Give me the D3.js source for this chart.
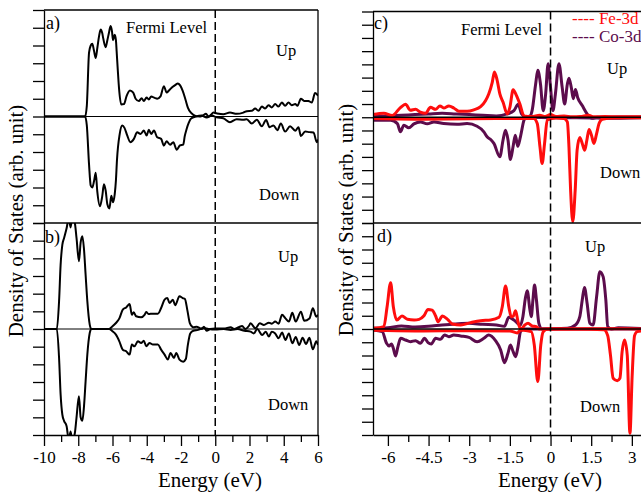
<!DOCTYPE html>
<html>
<head>
<meta charset="utf-8">
<script src="https://cdn.jsdelivr.net/npm/d3@7"></script>
<style>
  body { margin: 0; background: #fff; }
  svg { display: block; }
</style>
</head>
<body>
<svg id="chart" width="641" height="494"></svg>
<script>
// ---- Energy axis ticks (eV) ----
const leftMajorTicks = [-10, -8, -6, -4, -2, 0, 2, 4, 6];
const leftMinorTicks = [-9, -7, -5, -3, -1, 1, 3, 5];
const rightMajorTicks = [-6, -4.5, -3, -1.5, 0, 1.5, 3];
const rightMinorTicks = [-5.25, -3.75, -2.25, -0.75, 0.75, 2.25];
const leftDosTicks = d3.range(-6, 7);
const rightDosTicks = d3.range(-8, 9);

// ---- Series: [energy (eV), DOS (arb. unit)] ----
// a) total DOS, spin up / spin down
const aUp = [[-10,0],[-7.6,0],[-7.5,0.6],[-7.37,3.6],[-7.27,4.0],[-7.18,4.1],[-7.08,3.7],[-6.98,3.3],[-6.88,3.9],[-6.79,4.5],[-6.69,4.9],[-6.6,4.7],[-6.54,4.4],[-6.4,3.9],[-6.3,4.3],[-6.2,4.75],[-6.11,5.1],[-6.03,4.8],[-5.97,4.3],[-5.87,4.6],[-5.8,4.3],[-5.76,3.7],[-5.69,2.6],[-5.62,1.6],[-5.49,0.68],[-5.33,0.7],[-5.18,1.15],[-4.98,1.47],[-4.79,1.35],[-4.65,1.0],[-4.46,0.87],[-4.3,1.03],[-4.17,0.87],[-4.01,1.07],[-3.88,0.96],[-3.74,1.13],[-3.54,1.05],[-3.39,1.0],[-3.2,1.13],[-3.0,1.71],[-2.84,1.35],[-2.7,1.47],[-2.5,1.66],[-2.3,1.8],[-2.19,1.86],[-2.05,1.75],[-1.9,1.44],[-1.74,0.96],[-1.6,0.5],[-1.41,0.2],[-1.12,0.02],[-0.93,0],[-0.74,0.05],[-0.54,0.15],[-0.39,0],[-0.25,0.1],[-0.11,0.22],[0.08,0.18],[0.47,0.13],[0.86,0.22],[1.25,0.15],[1.64,0.22],[1.84,0.3],[2.13,0.32],[2.33,0.45],[2.52,0.32],[2.72,0.56],[2.91,0.45],[3.11,0.64],[3.3,0.51],[3.5,0.7],[3.69,0.56],[3.89,0.79],[4.08,0.6],[4.28,0.79],[4.47,0.64],[4.67,0.7],[4.8,0.6],[5.0,1.0],[5.19,0.88],[5.44,0.87],[5.64,0.79],[5.83,1.32],[6.0,1.17]];
const aDown = [[-10,0],[-7.6,0],[-7.5,-0.5],[-7.37,-2.7],[-7.27,-3.9],[-7.18,-4.0],[-7.08,-3.65],[-6.98,-3.17],[-6.89,-4.2],[-6.73,-5.05],[-6.6,-4.5],[-6.5,-3.82],[-6.4,-4.17],[-6.3,-4.95],[-6.18,-5.18],[-6.07,-4.47],[-5.97,-4.83],[-5.87,-4.37],[-5.8,-3.6],[-5.74,-2.47],[-5.58,-0.99],[-5.43,-0.51],[-5.3,-0.64],[-5.14,-1.07],[-4.95,-1.45],[-4.75,-1.26],[-4.56,-0.89],[-4.36,-0.98],[-4.17,-0.79],[-4.01,-1.07],[-3.88,-0.75],[-3.74,-0.98],[-3.58,-0.79],[-3.39,-1.17],[-3.16,-1.26],[-3.0,-1.64],[-2.84,-1.4],[-2.64,-1.59],[-2.45,-1.45],[-2.25,-1.87],[-2.06,-1.63],[-1.87,-1.58],[-1.78,-1.1],[-1.68,-0.73],[-1.55,-0.36],[-1.41,-0.11],[-1.12,0],[-0.8,0.05],[-0.5,-0.05],[-0.2,0.05],[0.08,-0.05],[0.47,-0.1],[0.86,-0.32],[1.25,-0.15],[1.64,-0.18],[1.84,-0.15],[2.13,-0.4],[2.43,-0.18],[2.72,-0.55],[2.97,-0.2],[3.17,-0.6],[3.4,-0.5],[3.63,-0.77],[3.83,-0.4],[4.08,-0.85],[4.37,-0.55],[4.67,-0.8],[4.86,-0.6],[5.0,-1.1],[5.25,-0.85],[5.5,-0.88],[5.74,-0.9],[5.93,-1.45],[6.0,-1.3]];

// b) total DOS, spin up / spin down
const bUp = [[-10,0],[-9.25,0],[-9.12,1.58],[-9.03,3.63],[-8.93,4.76],[-8.83,5.14],[-8.68,5.7],[-8.55,6.3],[-8.45,5.75],[-8.35,6.3],[-8.2,6.0],[-8.1,5.14],[-7.96,3.84],[-7.86,4.9],[-7.76,5.25],[-7.67,4.58],[-7.57,3.07],[-7.47,1.58],[-7.33,0.25],[-7.24,0],[-6.2,0],[-6.0,0.15],[-5.8,0.34],[-5.6,0.6],[-5.4,1.1],[-5.2,1.22],[-5.0,1.41],[-4.87,0.8],[-4.76,0.95],[-4.62,0.72],[-4.33,0.66],[-4.13,0.8],[-4.03,0.96],[-3.9,0.85],[-3.64,0.87],[-3.35,0.87],[-3.16,1.19],[-2.96,1.66],[-2.8,1.75],[-2.67,1.47],[-2.47,1.66],[-2.34,1.34],[-2.09,1.85],[-1.9,1.75],[-1.77,1.7],[-1.63,1.07],[-1.48,0.32],[-1.28,0.1],[-1.09,0.13],[-0.9,0.05],[-0.8,0],[-0.66,0.13],[-0.5,-0.1],[-0.3,0],[0,0.03],[0.5,0.03],[0.9,0.1],[1.1,0],[1.37,0.1],[1.57,0.17],[1.75,0],[1.96,0.17],[2.06,0.32],[2.35,0.04],[2.6,0.32],[2.84,0.23],[3.13,0.36],[3.3,0.3],[3.5,0.42],[3.7,0.3],[3.9,0.8],[4.1,0.6],[4.3,0.42],[4.5,0.92],[4.7,0.42],[5.0,0.98],[5.2,0.47],[5.5,0.6],[5.7,1.17],[5.9,0.7],[6.0,0.8]];
const bDown = [[-10,0],[-9.25,0],[-9.12,-1.64],[-9.03,-3.7],[-8.93,-4.84],[-8.83,-5.2],[-8.68,-5.5],[-8.55,-6.3],[-8.45,-5.8],[-8.35,-6.3],[-8.2,-5.9],[-8.1,-5.0],[-7.96,-3.8],[-7.86,-5.0],[-7.76,-5.2],[-7.67,-4.45],[-7.57,-2.95],[-7.47,-1.45],[-7.33,-0.23],[-7.24,0],[-6.2,0],[-6.0,-0.13],[-5.8,-0.32],[-5.6,-0.7],[-5.4,-1.17],[-5.2,-1.26],[-5.0,-1.45],[-4.87,-0.88],[-4.72,-0.98],[-4.52,-0.7],[-4.33,-0.79],[-4.17,-0.66],[-4.03,-0.98],[-3.84,-0.79],[-3.64,-0.88],[-3.35,-0.88],[-3.16,-1.17],[-2.96,-1.45],[-2.77,-1.73],[-2.61,-1.36],[-2.41,-1.64],[-2.28,-1.36],[-2.09,-1.73],[-1.87,-1.85],[-1.72,-1.7],[-1.6,-0.9],[-1.46,-0.25],[-1.28,-0.1],[-1.0,-0.05],[-0.7,0.05],[-0.4,0],[0,-0.03],[0.5,0],[0.9,-0.05],[1.3,0],[1.7,-0.1],[2.06,-0.15],[2.25,-0.25],[2.45,0],[2.74,-0.34],[2.95,-0.15],[3.13,-0.43],[3.3,-0.15],[3.5,-0.25],[3.7,-0.53],[3.9,-0.2],[4.1,-0.62],[4.3,-0.25],[4.5,-0.81],[4.7,-0.45],[4.9,-0.9],[5.1,-0.5],[5.3,-0.85],[5.5,-0.5],[5.7,-1.15],[5.9,-0.7],[6.0,-0.9]];

// c) projected 3d DOS
const cFeUp = [[-6.55,0.2],[-6.15,0.3],[-5.84,0.13],[-5.54,0.73],[-5.35,0.98],[-5.17,0.53],[-4.98,0.6],[-4.8,0.38],[-4.61,0.3],[-4.43,0.75],[-4.24,0.6],[-4.08,0.86],[-3.94,0.7],[-3.75,0.86],[-3.57,0.7],[-3.38,0.45],[-3.08,0.45],[-2.83,0.56],[-2.58,0.8],[-2.4,1.25],[-2.28,1.76],[-2.15,2.64],[-2.07,3.42],[-1.97,2.8],[-1.87,1.76],[-1.75,1.13],[-1.6,0.25],[-1.5,0.75],[-1.38,2.08],[-1.26,1.66],[-1.13,1.0],[-0.98,0.1],[-0.7,0.05],[-0.4,0.15],[-0.2,0.05],[0,0.2],[0.2,0.05],[0.5,0.1],[0.8,0.03],[1.1,0.05],[1.4,0.15],[1.6,0.03],[2.0,0.05],[2.5,0.03],[3.0,0.03],[3.5,0.03]];
const cFeDown = [[-6.55,-0.1],[-5,-0.15],[-3,-0.12],[-1.8,-0.1],[-1,-0.1],[-0.62,-0.1],[-0.49,-0.48],[-0.39,-2.24],[-0.31,-3.5],[-0.22,-1.98],[-0.12,-0.2],[0.2,-0.05],[0.5,-0.1],[0.62,-0.35],[0.68,-2.24],[0.74,-5.5],[0.82,-7.9],[0.91,-5.5],[0.98,-2.5],[1.08,-1.53],[1.17,-1.98],[1.26,-2.5],[1.34,-1.74],[1.42,-0.93],[1.51,-1.36],[1.6,-1.98],[1.7,-1.23],[1.79,-0.48],[1.91,-0.15],[2.3,-0.05],[3.5,-0.03]];
const cCoUp = [[-6.55,0.05],[-6,0.1],[-5.5,0.15],[-5,0.2],[-4.5,0.25],[-4,0.3],[-3.5,0.25],[-3,0.2],[-2.5,0.15],[-2,0.1],[-1.6,0.25],[-1.35,0.5],[-1.19,0.98],[-1.07,0.25],[-0.9,0.02],[-0.75,0.1],[-0.68,0.5],[-0.55,2.5],[-0.47,3.55],[-0.37,2.5],[-0.27,0.5],[-0.18,1.76],[-0.09,4.05],[0.0,2.26],[0.09,0.5],[0.18,1.76],[0.31,4.05],[0.43,2.26],[0.52,1.0],[0.62,2.5],[0.68,2.95],[0.77,2.2],[0.84,1.4],[0.92,2.1],[1.0,1.5],[1.17,0.88],[1.35,0.25],[1.53,-0.08],[1.72,0],[2.5,0.02],[3.5,0.02]];
const cCoDown = [[-6.55,-0.23],[-5.9,-0.23],[-5.65,-0.48],[-5.54,-1.1],[-5.41,-0.6],[-5.23,-0.8],[-5.04,-0.5],[-4.8,-0.35],[-4.55,-0.5],[-4.3,-0.35],[-3.94,-0.48],[-3.45,-0.53],[-3.08,-0.48],[-2.71,-0.68],[-2.46,-1.1],[-2.34,-1.48],[-2.2,-1.7],[-2.09,-1.98],[-1.87,-2.99],[-1.75,-1.7],[-1.66,-0.98],[-1.57,-1.7],[-1.48,-3.2],[-1.38,-2.2],[-1.3,-1.36],[-1.21,-2.2],[-1.11,-1.48],[-0.98,-0.23],[-0.9,0],[0,-0.03],[1.5,-0.05],[2.0,-0.08],[3.5,-0.03]];

// d) projected 3d DOS
const dFeUp = [[-6.55,0.05],[-6.15,0.18],[-6.03,1.68],[-5.9,3.5],[-5.8,1.68],[-5.67,0.68],[-5.48,0.98],[-5.28,0.73],[-5.03,0.68],[-4.85,0.73],[-4.67,1.0],[-4.52,1.48],[-4.37,1.43],[-4.24,0.98],[-4.15,0.55],[-3.99,0.98],[-3.8,0.73],[-3.62,0.38],[-3.31,0.3],[-2.95,0.48],[-2.58,0.63],[-2.21,0.68],[-1.9,0.88],[-1.78,1.68],[-1.66,3.25],[-1.54,1.68],[-1.45,0.93],[-1.38,0.95],[-1.29,1.38],[-1.2,0.55],[-1.1,-0.03],[-0.95,0.3],[-0.83,0.43],[-0.68,0.23],[-0.52,0.18],[-0.43,0],[1,0],[2.0,0.02],[3.5,0]];
const dFeDown = [[-6.55,-0.1],[-5,-0.15],[-3,-0.13],[-1.5,-0.15],[-1.23,-0.3],[-1.1,-0.08],[-0.71,-0.2],[-0.6,-1.2],[-0.47,-3.97],[-0.36,-1.2],[-0.27,-0.2],[-0.1,0],[1.0,0],[1.97,-0.05],[2.11,-0.5],[2.21,-1.95],[2.31,-3.72],[2.46,-3.9],[2.56,-3.72],[2.64,-1.73],[2.73,-0.83],[2.83,-1.98],[2.93,-7.87],[3.01,-3.6],[3.1,-0.5],[3.2,-0.2],[3.5,-0.13]];
const dCoUp = [[-6.55,0.05],[-6,0.1],[-5.5,0.23],[-5,0.15],[-4.5,0.2],[-4,0.3],[-3.5,0.38],[-3,0.43],[-2.5,0.35],[-2,0.3],[-1.7,0.2],[-1.54,0.88],[-1.35,0.68],[-1.11,0.3],[-1.02,0.93],[-0.93,2.31],[-0.86,2.89],[-0.76,1.43],[-0.71,0.93],[-0.65,2.19],[-0.59,3.32],[-0.52,2.19],[-0.43,0.43],[-0.31,0],[0.62,0.05],[0.92,0.3],[1.08,0.93],[1.17,2.19],[1.25,3.14],[1.35,1.93],[1.45,0.43],[1.57,0.3],[1.7,2.44],[1.82,4.33],[1.94,3.95],[2.04,2.19],[2.11,0.18],[2.25,0],[2.5,0.1],[3.5,0.03]];
const dCoDown = [[-6.55,-0.08],[-6.21,-0.2],[-6.05,-1.08],[-5.96,-1.28],[-5.87,-1.13],[-5.8,-1.46],[-5.72,-2.04],[-5.63,-1.33],[-5.53,-0.7],[-5.35,-0.83],[-5.17,-0.96],[-4.98,-0.88],[-4.8,-1.08],[-4.65,-0.7],[-4.52,-1.03],[-4.4,-1.13],[-4.24,-0.7],[-4.06,-0.78],[-3.91,-0.45],[-3.75,-0.58],[-3.57,-0.45],[-3.32,-0.53],[-3.01,-0.63],[-2.71,-0.96],[-2.46,-0.7],[-2.28,-0.45],[-2.03,-0.88],[-1.84,-1.58],[-1.7,-2.54],[-1.57,-1.83],[-1.48,-1.21],[-1.38,-1.71],[-1.29,-2.09],[-1.2,-1.33],[-1.11,-0.2],[-1.0,0],[3.5,0]];

const legendNames = ["Fe-3d", "Co-3d"];
const FE = "#ff0d0d", CO = "#5c0c4c";
const SERIF = "'Liberation Serif', 'Times New Roman', 'DejaVu Serif', serif";

// ---- Layout ----
const svg = d3.select("#chart");
const xL = d3.scaleLinear().domain([-10, 6]).range([44, 318]);
const xR = d3.scaleLinear().domain([-6.55, 3.5]).range([373, 645.4]);
const yA = d3.scaleLinear().domain([-6, 6]).range([223, 10]);
const yB = d3.scaleLinear().domain([-6, 6]).range([435, 223]);
const yC = d3.scaleLinear().domain([-8, 8]).range([223, 11.5]);
const yD = d3.scaleLinear().domain([-8, 8]).range([435, 223]);

const fmt = d => String(d); // plain hyphen minus, as in the axis labels

let clipCount = 0;
function drawPanel(x, y, series, zeroWidth, dosTicks) {
  const g = svg.append("g");
  const [x0, x1] = x.range();
  const [y1, y0] = y.range();
  const id = "clip" + (clipCount++);
  svg.append("clipPath").attr("id", id)
    .append("rect").attr("x", x0).attr("y", y0).attr("width", x1 - x0).attr("height", y1 - y0);
  const line = d3.line().x(d => x(d[0])).y(d => y(d[1])).curve(d3.curveMonotoneX);
  const plot = g.append("g").attr("clip-path", `url(#${id})`);
  series.forEach(s => {
    plot.append("path").datum(s.data).attr("d", line)
      .attr("fill", "none").attr("stroke", s.color).attr("stroke-width", s.width)
      .attr("stroke-linejoin", "round");
  });
  // zero line
  plot.append("line").attr("x1", x0).attr("x2", x1).attr("y1", y(0)).attr("y2", y(0))
    .attr("stroke", "#000").attr("stroke-width", zeroWidth);
  // frame: top and right edges
  g.append("line").attr("x1", x0).attr("x2", x1).attr("y1", y0).attr("y2", y0)
    .attr("stroke", "#000").attr("stroke-width", 1.3);
  g.append("line").attr("x1", x1).attr("x2", x1).attr("y1", y0).attr("y2", y1)
    .attr("stroke", "#000").attr("stroke-width", 1.3);
  // left DOS axis, ticks only
  const ax = g.append("g").attr("transform", `translate(${x0},0)`)
    .call(d3.axisLeft(y).tickValues(dosTicks).tickSize(11).tickSizeOuter(0).tickFormat(""));
  ax.selectAll("path,line").attr("stroke", "#000").attr("stroke-width", 1.3);
  return g;
}

function drawEnergyAxis(x, yPos, major, minor) {
  const g = svg.append("g").attr("transform", `translate(0,${yPos})`);
  g.call(d3.axisBottom(x).tickValues(major).tickSize(11).tickSizeOuter(0).tickPadding(5).tickFormat(fmt));
  g.attr("font-family", null).attr("font-size", null);
  g.selectAll("path,line").attr("stroke", "#000").attr("stroke-width", 1.3);
  g.selectAll("text").style("font-family", SERIF).style("font-size", "17px").style("fill", "#000");
  const gm = svg.append("g").attr("transform", `translate(0,${yPos})`);
  gm.call(d3.axisBottom(x).tickValues(minor).tickSize(7).tickSizeOuter(0).tickFormat(""));
  gm.select(".domain").remove();
  gm.selectAll("line").attr("stroke", "#000").attr("stroke-width", 1.3);
}

function fermiLine(x, yTop, yBottom) {
  svg.append("line").attr("x1", x(0)).attr("x2", x(0)).attr("y1", yTop).attr("y2", yBottom)
    .attr("stroke", "#000").attr("stroke-width", 1.5).attr("stroke-dasharray", "8,4");
}

function label(txt, xPos, yPos, size, color, anchor) {
  return svg.append("text").attr("x", xPos).attr("y", yPos)
    .attr("text-anchor", anchor || "start")
    .style("font-family", SERIF)
    .style("font-size", size + "px").style("fill", color || "#000").text(txt);
}

// ---- Left: total DOS ----
drawPanel(xL, yA, [{data: aUp, color: "#000", width: 2}, {data: aDown, color: "#000", width: 2}], 1, leftDosTicks);
drawPanel(xL, yB, [{data: bUp, color: "#000", width: 2}, {data: bDown, color: "#000", width: 2}], 1, leftDosTicks);
drawEnergyAxis(xL, 435, leftMajorTicks, leftMinorTicks);
fermiLine(xL, 10, 435);

// ---- Right: projected 3d DOS ----
drawPanel(xR, yC, [
  {data: cCoUp, color: CO, width: 3}, {data: cCoDown, color: CO, width: 3},
  {data: cFeUp, color: FE, width: 3}, {data: cFeDown, color: FE, width: 3}
], 1.5, rightDosTicks);
drawPanel(xR, yD, [
  {data: dCoUp, color: CO, width: 3}, {data: dCoDown, color: CO, width: 3},
  {data: dFeUp, color: FE, width: 3}, {data: dFeDown, color: FE, width: 3}
], 1.5, rightDosTicks);
drawEnergyAxis(xR, 435, rightMajorTicks, rightMinorTicks);
fermiLine(xR, 11.5, 435);

// ---- Annotations ----
label("a)", 46, 29, 18);
label("Fermi Level", 126, 33, 16.5);
label("Up", 276, 56, 16.5);
label("Down", 259, 200, 16.5);
label("b)", 45, 243, 18);
label("Up", 278, 262, 16.5);
label("Down", 268, 410, 16.5);

label("c)", 374, 29, 18);
label("Fermi Level", 461, 35, 16.5);
label("Up", 607, 74, 16.5);
label("Down", 600, 178, 16.5);
label("d)", 377, 242, 18);
label("Up", 585, 252, 16.5);
label("Down", 580, 412, 16.5);

// legend
label("---- " + legendNames[0], 572, 24, 17, FE);
label("---- " + legendNames[1], 572, 42, 17, CO);

// axis titles
label("Energy (eV)", 210, 487, 21, "#000", "middle");
label("Energy (eV)", 550, 487, 21, "#000", "middle");
label("Density of States (arb. unit)", 0, 0, 21, "#000", "middle")
  .attr("transform", "translate(23,221) rotate(-90)");
label("Density of States (arb. unit)", 0, 0, 21, "#000", "middle")
  .attr("transform", "translate(353,220) rotate(-90)");
</script>
</body>
</html>
